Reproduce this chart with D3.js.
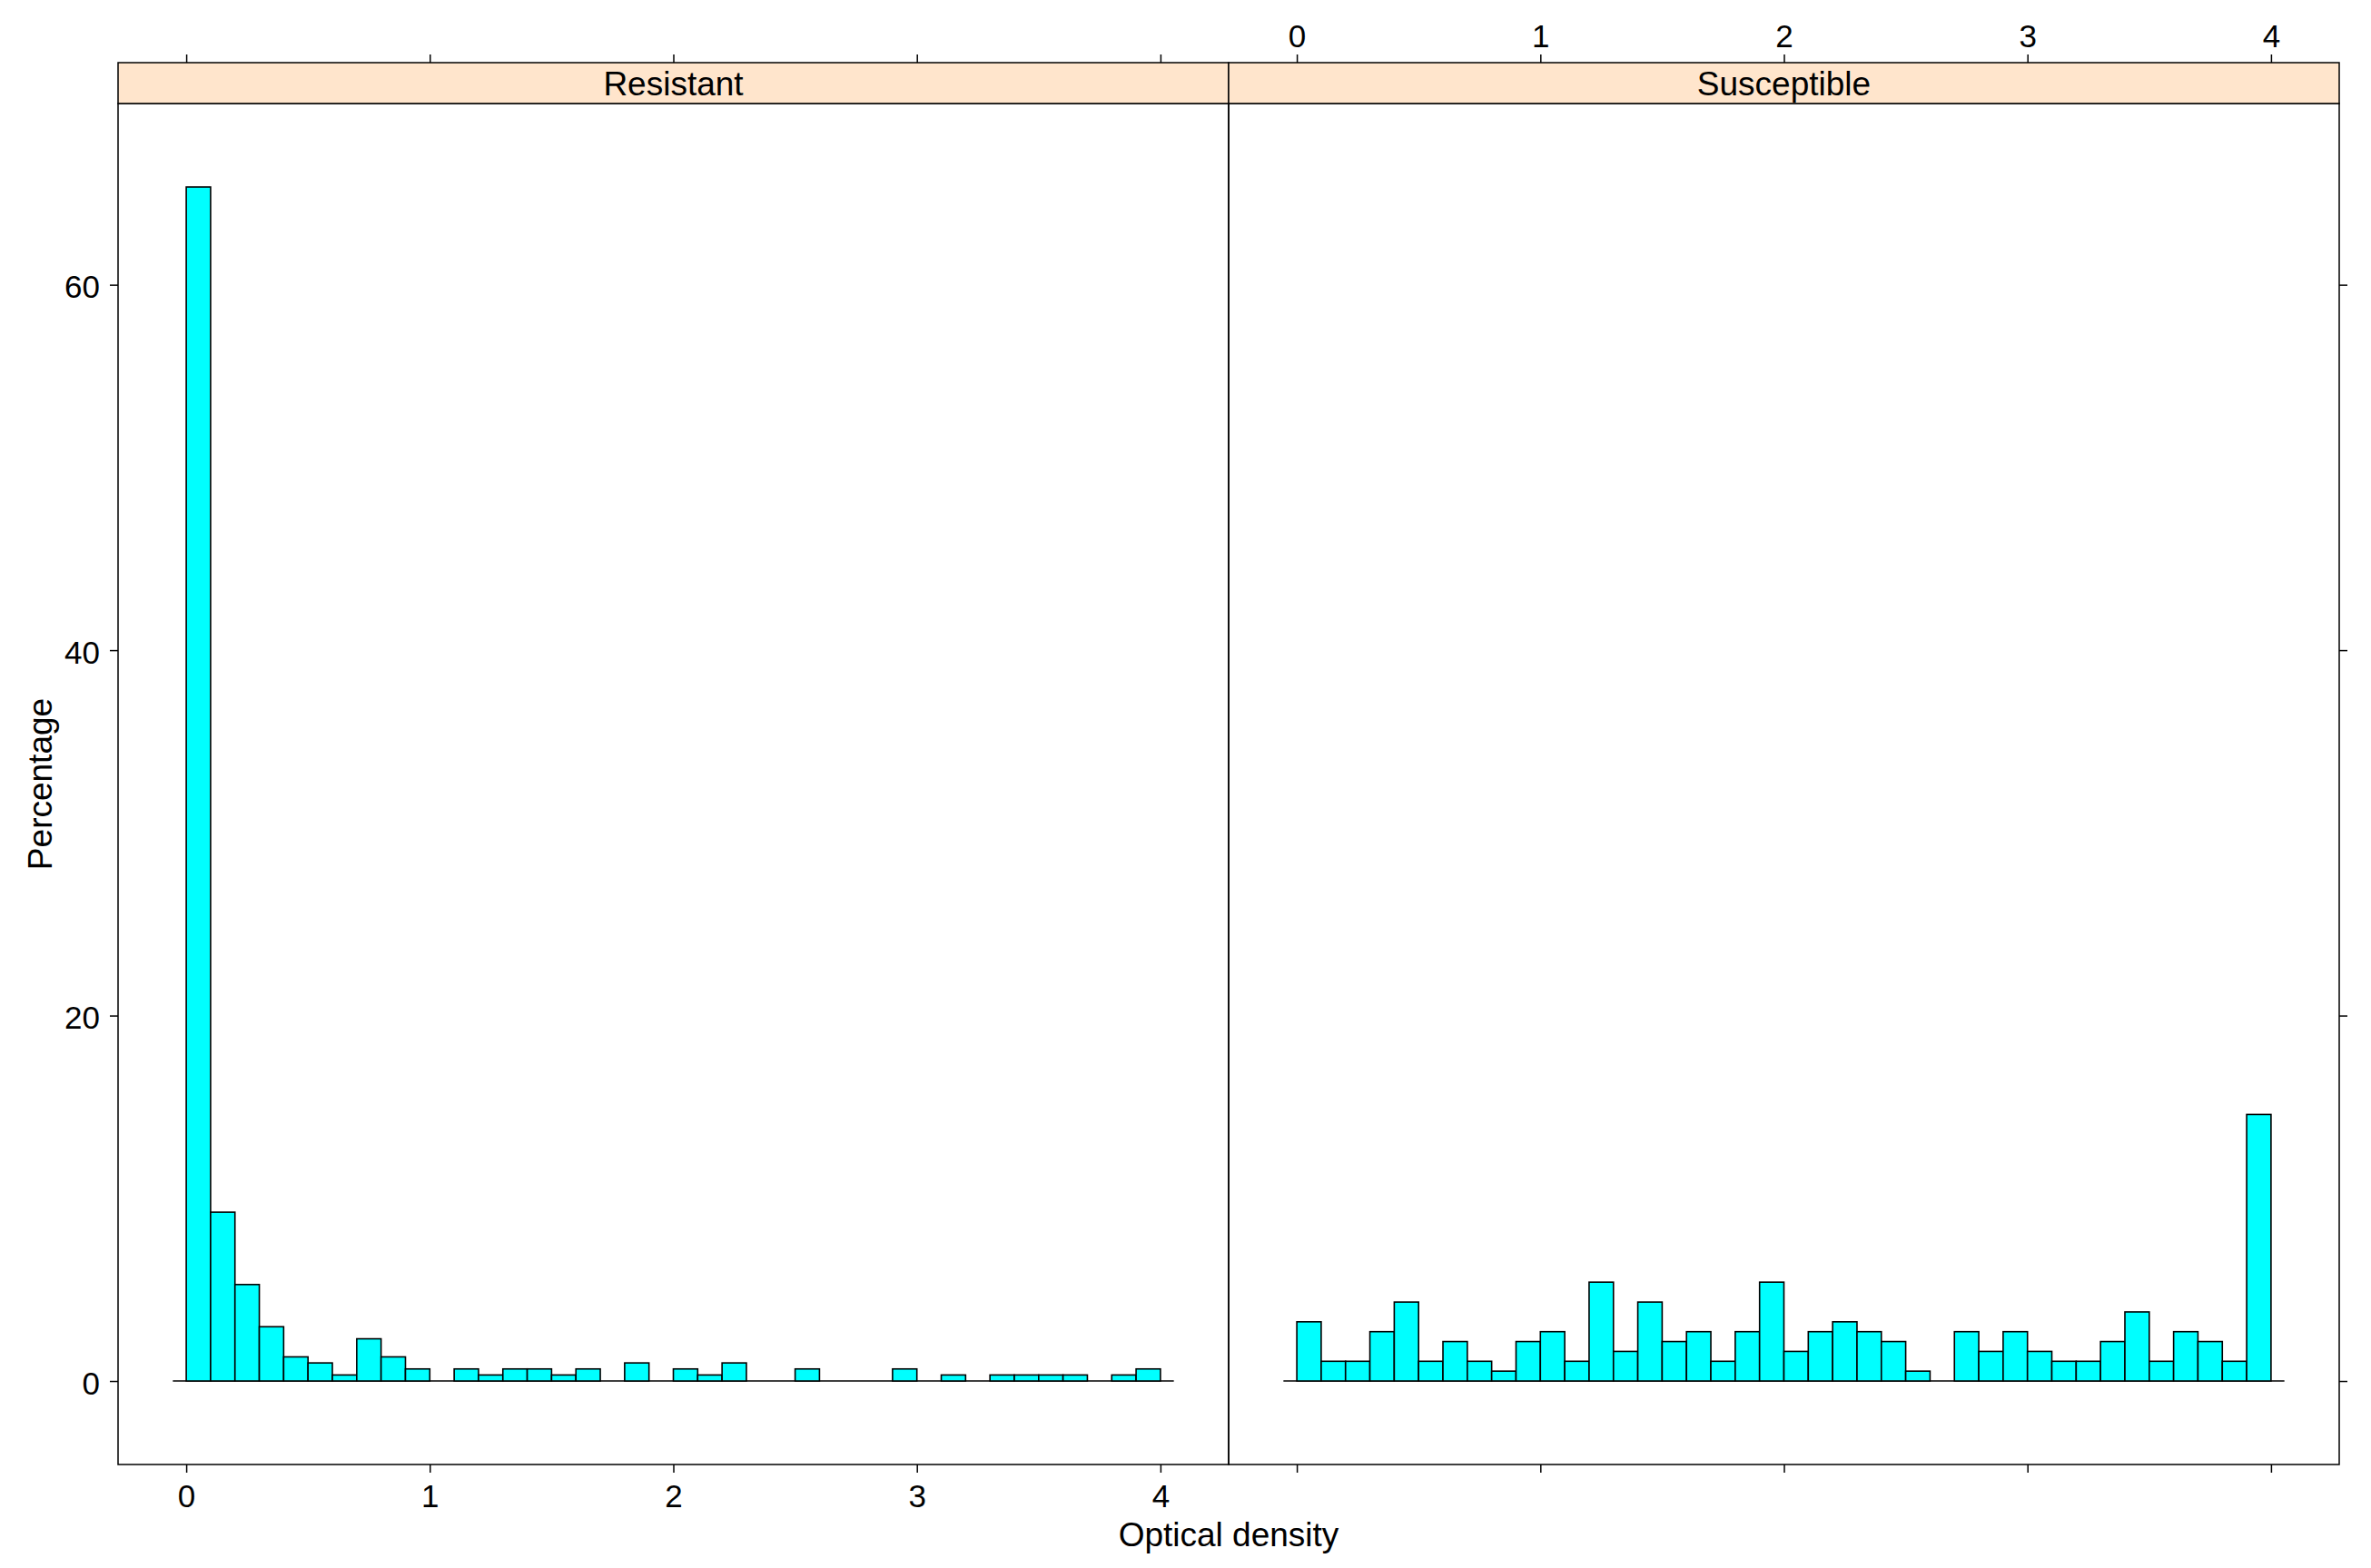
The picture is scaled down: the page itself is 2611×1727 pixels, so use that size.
<!DOCTYPE html>
<html>
<head>
<meta charset="utf-8">
<script src="https://cdn.jsdelivr.net/npm/d3@7"></script>
<style>
  html, body { margin: 0; padding: 0; background: #ffffff; }
  svg { display: block; }
  text { font-family: "Liberation Sans", Arial, Helvetica, sans-serif; fill: #000; }
</style>
</head>
<body>
<svg id="chart" width="2611" height="1727"></svg>
<script>
// ---------------- data ----------------
const categories = ["Resistant", "Susceptible"];

// histogram bin edges (optical density)
const binEdges = [0.0, 0.1, 0.2, 0.3, 0.4, 0.5, 0.6, 0.7, 0.8, 0.9,
                  1.0, 1.1, 1.2, 1.3, 1.4, 1.5, 1.6, 1.7, 1.8, 1.9,
                  2.0, 2.1, 2.2, 2.3, 2.4, 2.5, 2.6, 2.7, 2.8, 2.9,
                  3.0, 3.1, 3.2, 3.3, 3.4, 3.5, 3.6, 3.7, 3.8, 3.9, 4.0];

// percentage of observations in each bin
const resistantPct = [65.35, 9.24, 5.28, 2.97, 1.32, 0.99, 0.33, 2.31, 1.32, 0.66,
                      0.00, 0.66, 0.33, 0.66, 0.66, 0.33, 0.66, 0.00, 0.99, 0.00,
                      0.66, 0.33, 0.99, 0.00, 0.00, 0.66, 0.00, 0.00, 0.00, 0.66,
                      0.00, 0.33, 0.00, 0.33, 0.33, 0.33, 0.33, 0.00, 0.33, 0.66];

const susceptiblePct = [3.24, 1.08, 1.08, 2.70, 4.32, 1.08, 2.16, 1.08, 0.54, 2.16,
                        2.70, 1.08, 5.41, 1.62, 4.32, 2.16, 2.70, 1.08, 2.70, 5.41,
                        1.62, 2.70, 3.24, 2.70, 2.16, 0.54, 0.00, 2.70, 1.62, 2.70,
                        1.62, 1.08, 1.08, 2.16, 3.78, 1.08, 2.70, 2.16, 1.08, 14.59];

const xTicks = [0, 1, 2, 3, 4];
const yTicks = [0, 20, 40, 60];
const yLimits = [-4.57, 69.92];
const xLimits = [-0.28, 4.28];
const baselineExtent = [-0.055, 4.055];

const xLabel = "Optical density";
const yLabel = "Percentage";

// ---------------- layout ----------------
const W = 2611, H = 1727;
const plotLeft = 130, plotRight = 2576;
const stripTop = 69, stripBottom = 114, panelBottom = 1613;
const panelW = (plotRight - plotLeft) / categories.length;
const tickLen = 9;
const tickFont = 35, labelFont = 37;

const svg = d3.select("#chart");
svg.append("rect").attr("width", W).attr("height", H).attr("fill", "#ffffff");

const seriesByCat = [resistantPct, susceptiblePct];

// shared y scale
const y = d3.scaleLinear().domain(yLimits).range([panelBottom, stripBottom]);

categories.forEach((cat, i) => {
  const px0 = plotLeft + i * panelW, px1 = px0 + panelW;
  const x = d3.scaleLinear().domain(xLimits).range([px0, px1]);
  const g = svg.append("g");
  const vals = seriesByCat[i];

  const bins = vals.map((v, k) => ({ x0: binEdges[k], x1: binEdges[k + 1], v }));

  // baseline
  g.append("line")
    .attr("x1", x(baselineExtent[0])).attr("x2", x(baselineExtent[1]))
    .attr("y1", y(0)).attr("y2", y(0))
    .attr("stroke", "#000").attr("stroke-width", 1.6);

  // bars
  g.selectAll("rect.bar").data(bins.filter(d => d.v > 0)).join("rect")
    .attr("class", "bar")
    .attr("x", d => x(d.x0))
    .attr("width", d => x(d.x1) - x(d.x0))
    .attr("y", d => y(d.v))
    .attr("height", d => y(0) - y(d.v))
    .attr("fill", "#00FFFF")
    .attr("stroke", "#000")
    .attr("stroke-width", 1.6);

  // panel border
  g.append("rect")
    .attr("x", px0).attr("y", stripBottom)
    .attr("width", panelW).attr("height", panelBottom - stripBottom)
    .attr("fill", "none").attr("stroke", "#000").attr("stroke-width", 1.5);

  // strip
  g.append("rect")
    .attr("x", px0).attr("y", stripTop)
    .attr("width", panelW).attr("height", stripBottom - stripTop)
    .attr("fill", "#FFE5CC").attr("stroke", "#000").attr("stroke-width", 1.5);
  g.append("text")
    .attr("x", (px0 + px1) / 2).attr("y", (stripTop + stripBottom) / 2)
    .attr("dy", "0.36em")
    .attr("text-anchor", "middle")
    .style("font-size", labelFont + "px")
    .text(cat);

  // x axes
  const showBottomLabels = (i === 0);
  const bottomAxis = d3.axisBottom(x).tickValues(xTicks).tickSize(tickLen).tickPadding(13)
    .tickFormat(showBottomLabels ? d3.format("d") : () => "");
  const topAxis = d3.axisTop(x).tickValues(xTicks).tickSize(tickLen).tickPadding(8)
    .tickFormat(!showBottomLabels ? d3.format("d") : () => "");

  const gb = g.append("g").attr("transform", `translate(0,${panelBottom})`).call(bottomAxis);
  const gt = g.append("g").attr("transform", `translate(0,${stripTop})`).call(topAxis);

  // y axes
  if (i === 0) {
    const ga = g.append("g").attr("transform", `translate(${px0},0)`)
      .call(d3.axisLeft(y).tickValues(yTicks).tickSize(tickLen).tickPadding(11).tickFormat(d3.format("d")));
    ga.selectAll("text").attr("dy", "0.40em");
    styleAxis(ga);
  } else {
    const ga = g.append("g").attr("transform", `translate(${px1},0)`)
      .call(d3.axisRight(y).tickValues(yTicks).tickSize(tickLen).tickFormat(() => ""));
    styleAxis(ga);
  }
  styleAxis(gb);
  styleAxis(gt);
});

function styleAxis(sel) {
  sel.select(".domain").remove();
  sel.selectAll(".tick line").attr("stroke", "#000").attr("stroke-width", 1.5);
  sel.selectAll(".tick text")
    .style("font-size", tickFont + "px")
    .style("font-family", '"Liberation Sans", Arial, sans-serif')
    .attr("fill", "#000");
}

// axis titles
svg.append("text")
  .attr("x", (plotLeft + plotRight) / 2).attr("y", 1703)
  .attr("text-anchor", "middle")
  .style("font-size", labelFont + "px")
  .text(xLabel);

svg.append("text")
  .attr("transform", `translate(57,${(stripBottom + panelBottom) / 2}) rotate(-90)`)
  .attr("text-anchor", "middle")
  .style("font-size", labelFont + "px")
  .text(yLabel);
</script>
</body>
</html>
